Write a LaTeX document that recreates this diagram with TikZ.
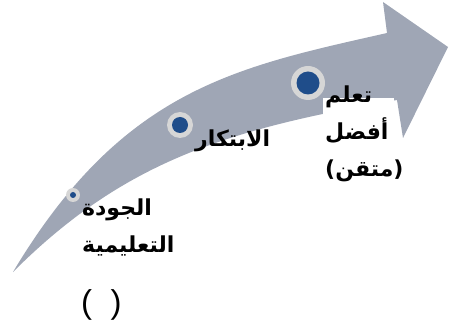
\documentclass[tikz,border=0pt]{standalone}
\usepackage{fontspec}
\usepackage{tikz}
\usetikzlibrary{positioning}
\TeXXeTstate=1
\newfontfamily\arabicfont[Script=Arabic]{DejaVu Sans}
\setmainfont{Liberation Sans}
\definecolor{arrowgray}{RGB}{159,166,181}
\definecolor{ringgray}{RGB}{214,214,214}
\definecolor{dotblue}{RGB}{31,77,138}

\begin{document}
\begin{tikzpicture}[x=1pt, y=-1pt,
  ring/.style={circle, fill=ringgray, inner sep=0pt},
  dot/.style={circle, fill=dotblue, inner sep=0pt},
  lbl/.style={font=\arabicfont\bfseries\fontsize{22}{37}\selectfont, align=left, inner sep=0pt, anchor=north west, text=black},
]
\useasboundingbox (0,0) rectangle (449,336);

% ---- curved arrow ----
\fill[arrowgray] (13,272) .. controls (123,88) and (237,67) .. (387,33)
  -- (383,2) -- (448,47) -- (403,138) -- (397,100)
  .. controls (227,129) and (123,162) .. (13,272) -- cycle;

% white patch behind the last label
\fill[white] (323,98) rectangle (394,200);

% ---- milestones ----
\node[ring, minimum size=14pt] (r1) at (73,195) {};
\node[dot, minimum size=6pt] (d1) at (r1.center) {};
\node[ring, minimum size=26pt] (r2) at (180,125) {};
\node[dot, minimum size=16pt] (d2) at (r2.center) {};
\node[ring, minimum size=34pt] (r3) at (308,83) {};
\node[dot, minimum size=23pt] (d3) at (r3.center) {};

% ---- labels ----
\node[lbl] (quality) at (82,199) {\beginR الجودة\endR\\\beginR التعليمية\endR};
\node[lbl] (innov) at (195,130) {\beginR الابتكار\endR};
\node[lbl] (learn) at (325,86) {\beginR تعلم\endR\\\beginR أفضل\endR\\\beginR (متقن)\endR};

% ---- bracket ----
\node[font=\fontsize{33}{36}\selectfont, inner sep=0pt, anchor=north west] (blank) at (81,289) {(\ \ )};
\end{tikzpicture}
\end{document}
